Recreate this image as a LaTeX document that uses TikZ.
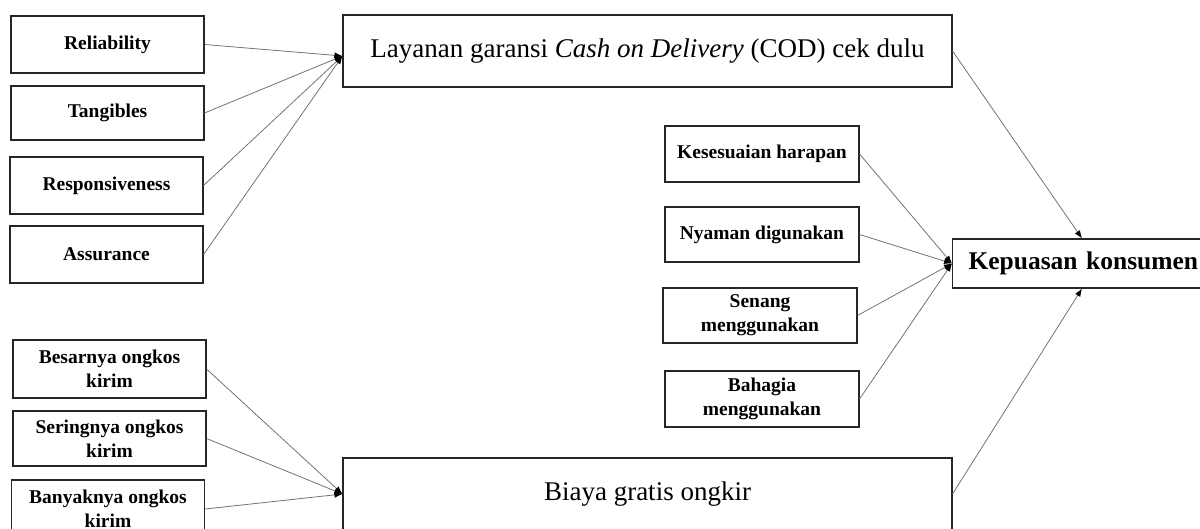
\documentclass[tikz,border=0pt]{standalone}
\usepackage{fontspec}
\setmainfont{Liberation Serif}
\usetikzlibrary{arrows.meta}
\begin{document}
\begin{tikzpicture}[x=1pt,y=-1pt,
  box/.style={draw=black!85, line width=1.1pt, inner sep=0pt, align=center},
  small/.style={box, minimum width=193pt, font=\fontsize{19.5}{24}\selectfont\bfseries},
  big/.style={box, minimum width=609pt, minimum height=72pt, font=\fontsize{27}{30}\selectfont},
  conn/.style={draw=black!55, line width=0.8pt, -{Latex[length=8pt,width=6pt,color=black]}}
]
\useasboundingbox (0,0) rectangle (1200,529);
\clip (0,0) rectangle (1200,529);

% upper-left indicators
\node[small, minimum height=57pt] (rel) at (107.5,44.5) {Reliability};
\node[small, minimum height=54pt] (tan) at (107.5,113) {Tangibles};
\node[small, minimum height=57pt] (res) at (106.5,185.5) {Responsiveness};
\node[small, minimum height=57pt] (ass) at (106.5,254.5) {Assurance};

% lower-left indicators
\node[small, minimum height=58pt] (bes) at (109.5,369) {Besarnya ongkos\\kirim};
\node[small, minimum height=55pt] (ser) at (109.5,438.5) {Seringnya ongkos\\kirim};
\node[small, minimum height=58pt] (ban) at (108,509) {Banyaknya ongkos\\kirim};

% middle indicators
\node[small, minimum width=194pt, minimum height=56pt] (kes) at (762,154) {Kesesuaian harapan};
\node[small, minimum width=194pt, minimum height=55pt] (nya) at (762,234.5) {Nyaman digunakan};
\node[small, minimum width=194pt, minimum height=55pt] (sen) at (760,315.5) {Senang\\menggunakan};
\node[small, minimum width=194pt, minimum height=56pt] (bah) at (762,399) {Bahagia\\menggunakan};

% main constructs
\node[big] (lay) at (647.5,51) {Layanan garansi \textit{Cash on Delivery} (COD) cek dulu};
\node[big] (bia) at (647.5,494) {Biaya gratis ongkir};
\node[box, anchor=west, minimum width=263pt, minimum height=49pt, inner xsep=16pt,
      text width=231pt, align=left, font=\fontsize{25.5}{30}\selectfont\bfseries]
      (kep) at (952,263.5) {Kepuasan konsumen};

\coordinate (layin) at ([yshift=-5pt]lay.west);
\coordinate (keptop) at ([xshift=130pt]kep.north west);
\coordinate (kepbot) at ([xshift=130pt]kep.south west);

% connectors
\foreach \n in {rel,tan,res,ass} \draw[conn] (\n.east) -- (layin);
\foreach \n in {bes,ser,ban} \draw[conn] (\n.east) -- (bia.west);
\foreach \n in {kes,nya,sen,bah} \draw[conn] (\n.east) -- (kep.west);
\draw[conn] (lay.east) -- (keptop);
\draw[conn] (bia.east) -- (kepbot);
\end{tikzpicture}
\end{document}
